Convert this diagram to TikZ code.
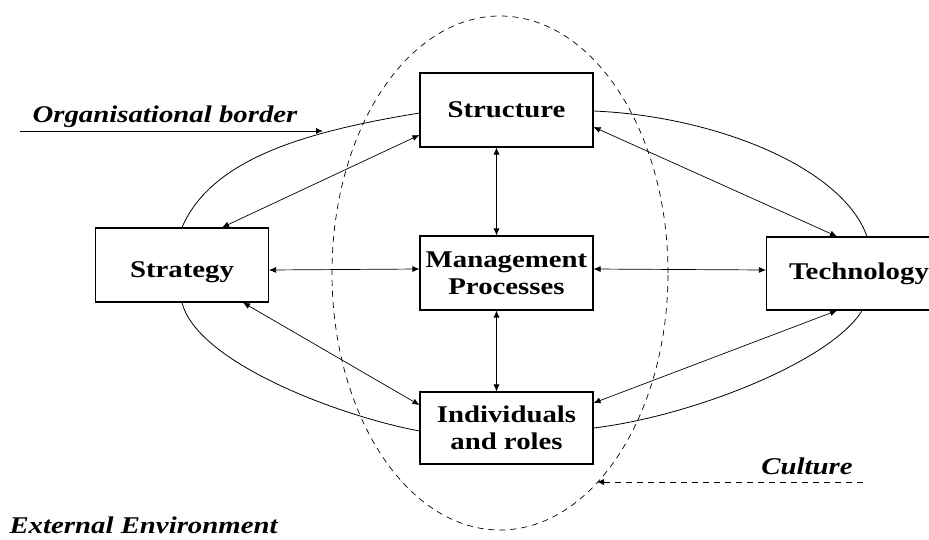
\documentclass[tikz,border=0pt]{standalone}
\usepackage{fontspec}
\setmainfont{Liberation Serif}
\newfontfamily\boxfont{Liberation Serif}[FakeStretch=1.2]
\usepackage{tikz}
\usetikzlibrary{arrows.meta}
\usetikzlibrary{positioning}

\begin{document}
\begin{tikzpicture}[x=1pt,y=-1pt,
    box/.style={draw,line width=1.1pt,minimum width=173pt,minimum height=74pt,
      align=center,font=\boxfont\bfseries\fontsize{24}{27}\selectfont},
    link/.style={{Latex[length=7pt,width=6pt]}-{Latex[length=7pt,width=6pt]},line width=0.7pt},
    border/.style={line width=0.8pt},
    tag/.style={font=\boxfont\bfseries\itshape\fontsize{24}{26}\selectfont}]

        \useasboundingbox (0,0) rectangle (929,539);

        \pgfmathsetmacro{\cx}{506.5}

        % the five boxes
        \node[box] (struct) at (\cx,110) {Structure};
        \node[box] (mgmt) at (\cx,273) {Management\\Processes};
        \node[box,minimum height=72pt] (indiv) at (\cx,428) {Individuals\\and roles};
        \node[box] (strat) at (182,265) {};
        \node[font=\boxfont\bfseries\fontsize{24}{27}\selectfont] (stratlabel) at ([yshift=-7pt]strat.center) {Strategy};
        \node[box,minimum height=73pt] (tech) at (853,273.5) {\hspace{12pt}Technology};

        % culture
        \draw[dashed,dash pattern=on 6pt off 5pt,line width=0.7pt]
        (500,273) ellipse [x radius=168pt, y radius=257pt];

        % organisational border
        \draw[border] ([yshift=-3pt]struct.west) .. controls +(-110,18) and +(30,-70) .. (strat.north);
        \draw[border] (strat.south) .. controls +(15,60) and +(-80,-15) .. ([yshift=-3pt]indiv.west);
        \draw[border] (indiv.east) .. controls +(100,-12) and +(-30,50) .. ([xshift=9pt]tech.south);
        \draw[border] ([yshift=-1pt]struct.east) .. controls +(120,5) and +(-25,-70) .. ([xshift=14pt]tech.north);

        % links
        \draw[link] ([xshift=-10pt]struct.south) -- ([xshift=-10pt]mgmt.north);
        \draw[link] ([xshift=-10pt]mgmt.south) -- ([xshift=-10pt]indiv.north);
        \draw[link] ([yshift=-5pt]strat.east) -- ([yshift=4pt]mgmt.west);
        \draw[link] ([yshift=4pt]mgmt.east) -- ([yshift=3.5pt]tech.west);
        \draw[link] ([yshift=-25pt]struct.west) -- ([xshift=40pt]strat.north);
        \draw[link] ([xshift=61pt]strat.south) -- ([yshift=23pt]indiv.west);
        \draw[link] ([yshift=-17pt]struct.east) -- ([xshift=-16pt]tech.north);
        \draw[link] ([xshift=-16pt]tech.south) -- ([yshift=25pt]indiv.east);

        % labels
        \coordinate (orgstart) at (20,131);
        \coordinate (orgend) at (323,131);
        \node[tag] (orglabel) at (165,117) {Organisational border};
        \draw[-{Latex[length=7pt,width=6pt]},line width=0.8pt] (orgstart) -- (orgend);

        \coordinate (culstart) at (863,482);
        \coordinate (culend) at (597,482);
        \node[tag] (cullabel) at (807,466) {Culture};
        \draw[-{Latex[length=7pt,width=6pt]},dashed,dash pattern=on 6pt off 5pt,line width=0.8pt] (culstart) -- (culend);

        \node[tag,anchor=west] (envlabel) at (6,525) {External Environment};
      \end{tikzpicture}
\end{document}
